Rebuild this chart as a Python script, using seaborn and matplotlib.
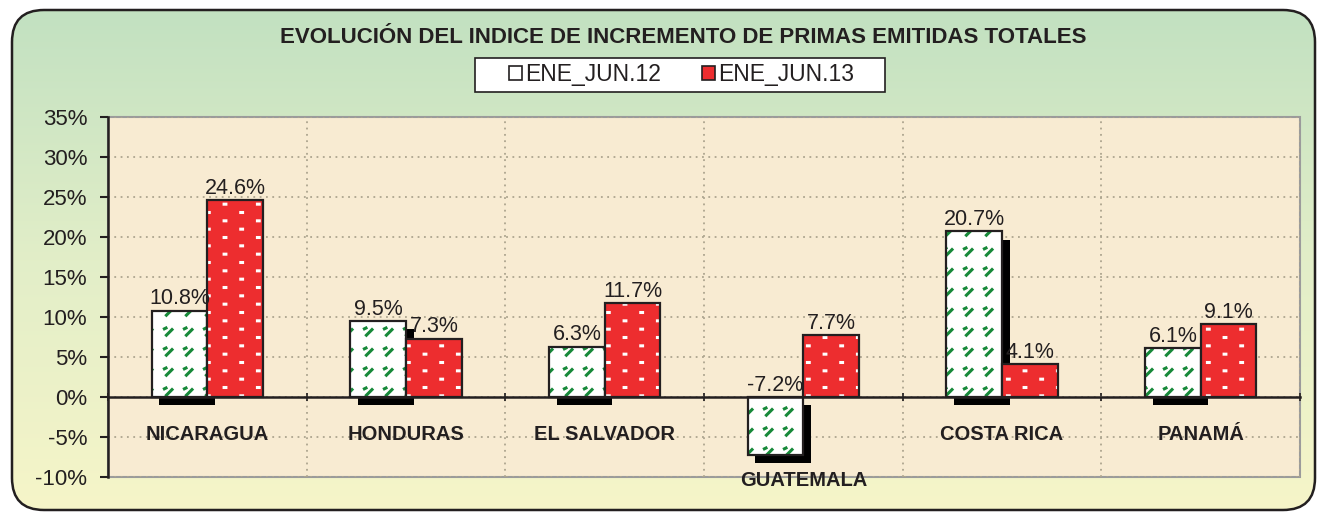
import numpy as np
import pandas as pd
import matplotlib
matplotlib.use("Agg")
import matplotlib.pyplot as plt
import matplotlib.hatch as mhatch
import matplotlib.patheffects as pe
from matplotlib.path import Path
from matplotlib.patches import Patch, Rectangle, FancyBboxPatch
from matplotlib.colors import to_rgba, LinearSegmentedColormap
from matplotlib.ticker import FuncFormatter, MultipleLocator
import seaborn as sns

# Data
paises = ["NICARAGUA", "HONDURAS", "EL SALVADOR", "GUATEMALA", "COSTA RICA", "PANAMÁ"]
periodos = ["ENE_JUN.12", "ENE_JUN.13"]
ene_jun_12 = [10.8, 9.5, 6.3, -7.2, 20.7, 6.1]
ene_jun_13 = [24.6, 7.3, 11.7, 7.7, 4.1, 9.1]
titulo = "EVOLUCIÓN DEL INDICE DE INCREMENTO DE PRIMAS EMITIDAS TOTALES"

df = pd.DataFrame({
    "pais": paises * 2,
    "periodo": [periodos[0]] * len(paises) + [periodos[1]] * len(paises),
    "valor": ene_jun_12 + ene_jun_13,
})

RED = "#ed2d2f"
GREEN = "#17893a"
INK = "#231f20"


# Excel-like fill patterns: small green strokes (used for 'o') and white dots (used for '.')
class GreenStrokes(mhatch.HatchPatternBase):
    def __init__(self, hatch, density):
        self.cells = 5 if "o" in hatch else 0
        self.num_vertices = 4 * self.cells ** 2

    def set_vertices_and_codes(self, vertices, codes):
        step = 1.0 / self.cells
        mark = np.array([[0.32, 0.24], [0.60, 0.52], [0.22, 0.56], [0.30, 0.60]])
        k = 0
        for i in range(self.cells):
            for j in range(self.cells):
                vertices[k:k + 4] = (mark + [i, j]) * step
                codes[k:k + 4] = [Path.MOVETO, Path.LINETO, Path.MOVETO, Path.LINETO]
                k += 4


class WhiteDots(mhatch.HatchPatternBase):
    def __init__(self, hatch, density):
        self.rows = 12 if "." in hatch else 0
        self.cols = 3
        self.num_vertices = 2 * self.rows * self.cols

    def set_vertices_and_codes(self, vertices, codes):
        k = 0
        for r in range(self.rows):
            y = (r + 0.5) / self.rows
            for c in range(self.cols):
                x = (c + 0.25 + 0.5 * (r % 2)) / self.cols
                vertices[k:k + 2] = [[x - 0.009, y], [x + 0.009, y]]
                codes[k:k + 2] = [Path.MOVETO, Path.LINETO]
                k += 2


mhatch._hatch_types = [
    GreenStrokes if t is mhatch.SmallCircles else WhiteDots if t is mhatch.SmallFilledCircles else t
    for t in mhatch._hatch_types
]

sns.set_style("white")
plt.rcParams["font.family"] = ["Liberation Sans", "DejaVu Sans"]
plt.rcParams["hatch.linewidth"] = 2.2

fig = plt.figure(figsize=(13.19, 5.13), dpi=100, facecolor="white")

# Background panel with rounded border and green-to-yellow gradient
bg = fig.add_axes([0, 0, 1, 1], zorder=-10)
bg.set_xlim(0, 1319)
bg.set_ylim(0, 513)
bg.axis("off")
frame = FancyBboxPatch((12, 3), 1303, 500, boxstyle="round,pad=0,rounding_size=32",
                       facecolor="none", edgecolor=INK, linewidth=1.8, zorder=3)
bg.add_patch(frame)
cmap = LinearSegmentedColormap.from_list("bg", ["#f6f5c9", "#e2eec8", "#c2e1c1"])
grad = np.linspace(0, 1, 256).reshape(-1, 1)
im = bg.imshow(grad, extent=(12, 1315, 3, 503), origin="lower", cmap=cmap, aspect="auto", zorder=1)
im.set_clip_path(frame)

# Main plot
ax = fig.add_axes([108 / 1319, 1 - 477 / 513, (1300 - 108) / 1319, (477 - 117) / 513])
ax.set_facecolor("#f8ebd2")
sns.barplot(data=df, x="pais", y="valor", hue="periodo", palette=["white", RED],
            width=0.56, saturation=1, edgecolor=INK, linewidth=1.6, legend=False, ax=ax)

ax.set_ylim(-10, 35)
ax.yaxis.set_major_locator(MultipleLocator(5))
ax.yaxis.set_major_formatter(FuncFormatter(lambda v, _: f"{v:.0f}%"))
ax.set_xlim(-0.5, len(paises) - 0.5)
ax.set_xticks(range(len(paises)))
ax.set_xticklabels([])
ax.set_xticks(np.arange(len(paises) + 1) - 0.5, minor=True)
ax.set_xlabel("")
ax.set_ylabel("")

ax.set_axisbelow(True)
ax.yaxis.grid(True, which="major", linestyle=(0, (1, 2.5)), color="#ada58f", linewidth=1.3)
ax.xaxis.grid(True, which="minor", linestyle=(0, (1, 2.5)), color="#ada58f", linewidth=1.3)
ax.xaxis.grid(False, which="major")

for s in ["top", "right"]:
    ax.spines[s].set_visible(False)
ax.spines["left"].set_color(INK)
ax.spines["left"].set_linewidth(1.8)
ax.spines["bottom"].set_position(("data", 0))
ax.spines["bottom"].set_color(INK)
ax.spines["bottom"].set_linewidth(1.8)
ax.patch.set_edgecolor("#9b9b9b")
ax.patch.set_linewidth(1.5)

ax.tick_params(axis="y", which="major", length=6, width=1.5, color=INK, pad=9,
               labelsize=16, labelcolor=INK, left=True)
ax.tick_params(axis="x", which="major", length=0)
ax.tick_params(axis="x", which="minor", length=6, width=1.2, color=INK, direction="inout", bottom=True)

# Fills, shadows and value labels
for p in ax.containers[0]:
    p.set_hatch("o")
    p._hatch_color = to_rgba(GREEN)
    p.set_path_effects([pe.SimplePatchShadow(offset=(5.5, -6), shadow_rgbFace="black",
                                             alpha=1.0, hatch=None), pe.Normal()])
for p in ax.containers[1]:
    p.set_hatch(".")
    p._hatch_color = to_rgba("white")

for cont in ax.containers:
    for p in cont:
        v = p.get_height()
        ax.annotate(f"{v:.1f}%", xy=(p.get_x() + p.get_width() / 2, max(v, 0)),
                    xytext=(0, 1), textcoords="offset points", ha="center", va="bottom",
                    fontsize=15.5, color=INK)

# Category labels under the bars
for i, pais in enumerate(paises):
    low = min(ene_jun_12[i], ene_jun_13[i], 0)
    off = 20 if low >= 0 else 12
    ax.annotate(pais, xy=(i, low), xytext=(0, -off), textcoords="offset points",
                ha="center", va="top", fontsize=14.5, fontweight="bold", color=INK)

# Title and legend
fig.text(0.518, 0.926, titulo, ha="center", va="center", fontsize=16,
         fontweight="bold", color=INK)
fig.add_artist(Rectangle((475 / 1319, 1 - 92 / 513), 410 / 1319, 34 / 513,
                         transform=fig.transFigure, facecolor="white",
                         edgecolor=INK, linewidth=1.2, zorder=2))
handles = [Patch(facecolor="white", edgecolor=INK, linewidth=1.2),
           Patch(facecolor=RED, edgecolor=INK, linewidth=1.2)]
leg = fig.legend(handles, periodos, ncol=2, loc="center", bbox_to_anchor=(0.517, 0.855),
                 frameon=False, fontsize=16.5, handlelength=0.55, handleheight=0.55,
                 handletextpad=0.15, columnspacing=1.8)
leg.set_zorder(3)
for t in leg.get_texts():
    t.set_color(INK)

fig.savefig("out.png", dpi=100)
